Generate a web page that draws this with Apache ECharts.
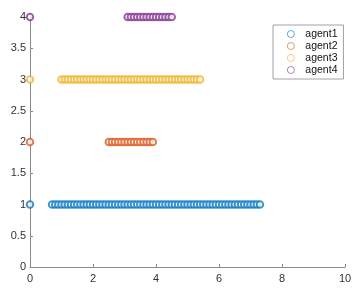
<!DOCTYPE html>
<html><head><meta charset="utf-8">
<script src="https://cdn.jsdelivr.net/npm/echarts@6/dist/echarts.min.js"></script>
<style>html,body{margin:0;padding:0;background:#fff}#c{width:364px;height:291px}</style>
</head><body><div id="c"></div>
<script>
const seriesNames = ['agent1', 'agent2', 'agent3', 'agent4'];
const colors = ['#0072BD', '#D95319', '#EDB120', '#7E2F8E'];
const agent1X = [0, 0.7, 0.8, 0.9, 1.0, 1.1, 1.2, 1.3, 1.4, 1.5, 1.6, 1.7, 1.8, 1.9, 2.0, 2.1, 2.2, 2.3, 2.4, 2.5, 2.6, 2.7, 2.8, 2.9, 3.0, 3.1, 3.2, 3.3, 3.4, 3.5, 3.6, 3.7, 3.8, 3.9, 4.0, 4.1, 4.2, 4.3, 4.4, 4.5, 4.6, 4.7, 4.8, 4.9, 5.0, 5.1, 5.2, 5.3, 5.4, 5.5, 5.6, 5.7, 5.8, 5.9, 6.0, 6.1, 6.2, 6.3, 6.4, 6.5, 6.6, 6.7, 6.8, 6.9, 7.0, 7.1, 7.2, 7.3];
const agent2X = [0, 2.5, 2.6, 2.7, 2.8, 2.9, 3.0, 3.1, 3.2, 3.3, 3.4, 3.5, 3.6, 3.7, 3.8, 3.9];
const agent3X = [0, 1.0, 1.1, 1.2, 1.3, 1.4, 1.5, 1.6, 1.7, 1.8, 1.9, 2.0, 2.1, 2.2, 2.3, 2.4, 2.5, 2.6, 2.7, 2.8, 2.9, 3.0, 3.1, 3.2, 3.3, 3.4, 3.5, 3.6, 3.7, 3.8, 3.9, 4.0, 4.1, 4.2, 4.3, 4.4, 4.5, 4.6, 4.7, 4.8, 4.9, 5.0, 5.1, 5.2, 5.3, 5.4];
const agent4X = [0, 3.1, 3.2, 3.3, 3.4, 3.5, 3.6, 3.7, 3.8, 3.9, 4.0, 4.1, 4.2, 4.3, 4.4, 4.5];
const agentY = [1, 2, 3, 4];
const xTicks = [0, 2, 4, 6, 8, 10];
const yTicks = [0, 0.5, 1, 1.5, 2, 2.5, 3, 3.5, 4];

const allX = [agent1X, agent2X, agent3X, agent4X];
const chart = echarts.init(document.getElementById('c'), null, {renderer: 'canvas'});
const axisCommon = {
  axisLine: {show: true, lineStyle: {color: '#8a8a8a', width: 1}},
  axisTick: {show: true, inside: true, length: 3, lineStyle: {color: '#8a8a8a'}},
  axisLabel: {color: '#333', fontSize: 11, fontFamily: 'Liberation Sans, Arial, sans-serif'},
  splitLine: {show: false}
};
chart.setOption({
  animation: false,
  backgroundColor: '#fff',
  grid: {left: 30, right: 19, top: 17, bottom: 24, containLabel: false},
  xAxis: Object.assign({type: 'value', min: xTicks[0], max: xTicks[xTicks.length - 1], interval: 2}, axisCommon,
    {axisLabel: Object.assign({}, axisCommon.axisLabel, {margin: 6})}),
  yAxis: Object.assign({type: 'value', min: yTicks[0], max: yTicks[yTicks.length - 1], interval: 0.5}, axisCommon,
    {axisLabel: Object.assign({}, axisCommon.axisLabel, {margin: 4, formatter: v => String(v)})}),
  legend: {
    orient: 'vertical', left: 273, top: 25,
    data: seriesNames.map((n, i) => ({name: n, icon: 'circle',
      itemStyle: {color: 'rgba(0,0,0,0)', borderColor: colors[i], borderWidth: 0.7, opacity: 0.85}})),
    itemWidth: 7, itemHeight: 7, itemGap: 0,
    padding: [3, 6, 3, 14],
    borderColor: '#8a8a8a', borderWidth: 0.8, backgroundColor: '#fff',
    textStyle: {color: '#111', fontSize: 10.5, lineHeight: 12, fontFamily: 'Liberation Sans, Arial, sans-serif', padding: [0, 0, 0, 6]}
  },
  series: seriesNames.map((n, i) => ({
    name: n, type: 'scatter',
    symbol: 'emptyCircle', symbolSize: 6.5,
    itemStyle: {color: colors[i], borderColor: colors[i], borderWidth: 0.6, opacity: 0.75},
    data: allX[i].map(x => [x, agentY[i]])
  }))
});
</script></body></html>
